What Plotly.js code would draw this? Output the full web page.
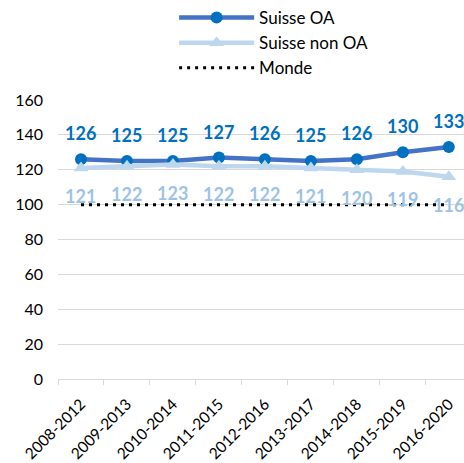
<!DOCTYPE html>
<html><head><meta charset="utf-8">
<script src="https://cdn.plot.ly/plotly-3.0.1.min.js"></script>
<style>body{margin:0;}#c{width:464px;height:463px;}</style>
</head><body><div id="c"></div>
<script>
var categories = ['2008-2012','2009-2013','2010-2014','2011-2015','2012-2016','2013-2017','2014-2018','2015-2019','2016-2020'];
var suisseOA = [126,125,125,127,126,125,126,130,133];
var suisseNonOA = [121,122,123,122,122,121,120,119,116];
var monde = [100,100,100,100,100,100,100,100,100];
var yTicks = [0,20,40,60,80,100,120,140,160];

var F = 'Lato, "Liberation Sans", sans-serif';
var traces = [
  {x: categories, y: suisseOA, name: 'Suisse OA', type: 'scatter', mode: 'lines+markers',
   line: {color: '#4472C4', width: 4.5}, marker: {color: '#0070C0', size: 12, symbol: 'circle'}},
  {x: categories, y: suisseNonOA, name: 'Suisse non OA', type: 'scatter', mode: 'lines+markers',
   line: {color: '#BDD7EE', width: 4.5}, marker: {color: '#BDD7EE', size: 13, symbol: 'triangle-up'}},
  {x: categories, y: monde, name: 'Monde', type: 'scatter', mode: 'lines',
   line: {color: '#000000', width: 3, dash: '3px,5px'}}
];
var ann = [];
categories.forEach(function(c, i){
  ann.push({x: c, y: suisseOA[i], text: String(suisseOA[i]), showarrow: false, yshift: 26,
    font: {family: F, size: 18, color: '#0070C0', weight: 'bold'}});
  ann.push({x: c, y: suisseNonOA[i], text: String(suisseNonOA[i]), showarrow: false, yshift: -28,
    font: {family: F, size: 18, color: '#9DC3E6', weight: 'bold'}});
});
var layout = {
  width: 464, height: 463,
  margin: {l: 58, r: 0, t: 97, b: 84},
  paper_bgcolor: '#fff', plot_bgcolor: '#fff',
  font: {family: F, color: '#000'},
  showlegend: true,
  legend: {x: 0.286, xanchor: 'left', y: 1.36, yanchor: 'top', font: {family: F, size: 17, color: '#000'},
    itemwidth: 75, tracegroupgap: 0, bgcolor: 'rgba(0,0,0,0)'},
  xaxis: {type: 'category', range: [-0.5, 8.33], tickson: 'boundaries', ticks: 'outside', ticklen: 5,
    tickcolor: '#D9D9D9', showline: true, linecolor: '#D9D9D9', linewidth: 1, showgrid: false,
    tickangle: -45, tickfont: {family: F, size: 15.5, color: '#000'}, ticklabelstandoff: 9, fixedrange: true},
  yaxis: {range: [0, 160], tickvals: yTicks, ticktext: yTicks.map(String), showgrid: true,
    gridcolor: '#D9D9D9', gridwidth: 1, zeroline: false, ticks: '', ticklabelstandoff: 14,
    tickfont: {family: F, size: 16, color: '#000'}, fixedrange: true},
  annotations: ann
};
Plotly.newPlot('c', traces, layout, {displayModeBar: false, staticPlot: true});
</script></body></html>
